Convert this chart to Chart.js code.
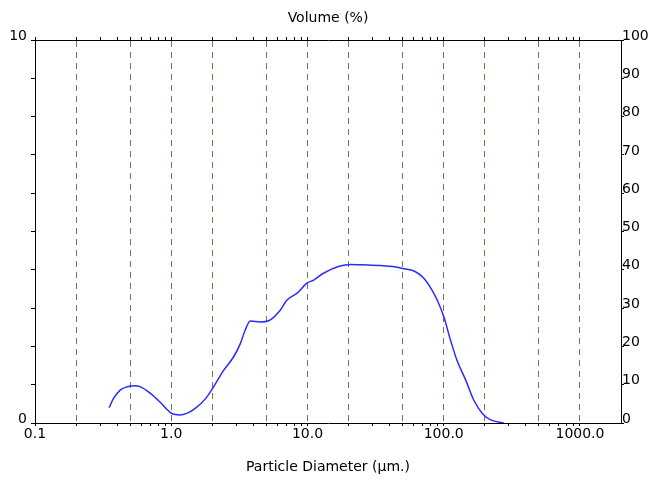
<!DOCTYPE html>
<html><head><meta charset="utf-8">
<script src="https://cdn.jsdelivr.net/npm/chart.js@4/dist/chart.umd.min.js"></script>
<style>html,body{margin:0;padding:0;background:#fff}canvas{display:block}</style>
</head><body>
<canvas id="c" width="651" height="483"></canvas>
<script>
// Particle diameter (µm) and volume (%)
const diameters = [0.350,0.377,0.422,0.47,0.543,0.59,0.70,0.83,0.98,1.07,1.16,1.30,1.50,1.78,2.05,2.43,2.87,3.22,3.49,3.81,4.50,5.19,6.27,7.07,8.4,9.9,11.1,13.1,17.3,20.8,24.5,34.6,43.5,51.0,62.0,71.4,82,89.5,100,112,125,145,166,192,221,276];
const volumes   = [0.40,0.64,0.86,0.94,0.97,0.95,0.78,0.54,0.28,0.22,0.21,0.25,0.38,0.63,0.95,1.38,1.73,2.08,2.43,2.66,2.64,2.67,2.93,3.21,3.39,3.65,3.73,3.91,4.10,4.14,4.13,4.11,4.08,4.03,3.95,3.78,3.47,3.21,2.78,2.17,1.64,1.12,0.60,0.25,0.08,0.0];
const gridDiameters = [0.2,0.5,1,2,5,10,20,50,100,200,500,1000];
const decadeValues = [0.1,1,10,100,1000];
const decadeLabels = ['0.1','1.0','10.0','100.0','1000.0'];
const leftLabels = [0,10];
const rightStep = 10;
const xMin = 0.1, xMax = 2000;

const minorTicks = [];
[0.1,1,10,100,1000].forEach(d => { for (let k = 1; k <= 9; k++) { const v = +(d*k).toPrecision(6); if (v >= xMin && v <= 1000) minorTicks.push(v); } });
const near = (a,b) => Math.abs(a-b) < 1e-9*Math.max(1,b);

Chart.defaults.font.family = 'DejaVu Sans';
Chart.defaults.font.size = 14;
Chart.defaults.color = '#000';

new Chart(document.getElementById('c'), {
  type: 'line',
  data: {
    datasets: [{
      data: diameters.map((d,i) => ({x: d, y: volumes[i]})),
      borderColor: '#2b2bff',
      borderWidth: 1.5,
      pointRadius: 0,
      cubicInterpolationMode: 'monotone',
      fill: false,
      xAxisID: 'x',
      yAxisID: 'y'
    }]
  },
  options: {
    responsive: false,
    animation: false,
    layout: {padding: 0},
    plugins: {legend: {display: false}, tooltip: {enabled: false}},
    scales: {
      x: {
        type: 'logarithmic', position: 'bottom', min: xMin, max: xMax,
        afterBuildTicks: s => { s.ticks = minorTicks.map(v => ({value: v})); },
        afterFit: s => { s.height = 60; },
        ticks: {
          autoSkip: false, maxRotation: 0, minRotation: 0, padding: 0,
          callback: v => { const i = decadeValues.findIndex(d => near(v, d)); return i >= 0 ? decadeLabels[i] : ''; }
        },
        grid: {drawOnChartArea: false, color: '#000', tickLength: 3},
        border: {color: '#000', width: 1},
        title: {display: true, text: 'Particle Diameter (µm.)', padding: {top: 0, bottom: 7}}
      },
      x2: {
        type: 'logarithmic', position: 'top', min: xMin, max: xMax,
        afterBuildTicks: s => { s.ticks = minorTicks.map(v => ({value: v})); },
        afterFit: s => { s.height = 40; },
        ticks: {display: false, autoSkip: false},
        grid: {
          drawOnChartArea: true,
          color: ctx => (ctx.tick && gridDiameters.some(g => near(ctx.tick.value, g))) ? '#75754f' : 'rgba(0,0,0,0)',
          tickColor: '#000', tickLength: 3, lineWidth: 1
        },
        border: {color: '#000', width: 1, dash: [6,5]},
        title: {display: true, text: 'Volume (%)', padding: {top: 10, bottom: 0}}
      },
      y: {
        position: 'left', min: 0, max: 10,
        afterFit: s => { s.width = 35; },
        ticks: {stepSize: 1, padding: 4, labelOffset: -4, callback: v => leftLabels.includes(v) ? String(v) : ''},
        grid: {drawOnChartArea: false, color: '#000', tickLength: 4},
        border: {color: '#000', width: 1}
      },
      y2: {
        position: 'right', min: 0, max: 100,
        afterFit: s => { s.width = 30; },
        ticks: {stepSize: rightStep, padding: -2, labelOffset: -4},
        grid: {drawOnChartArea: false, color: '#000', tickLength: 3},
        border: {color: '#000', width: 1}
      }
    }
  }
});
</script>
</body></html>
